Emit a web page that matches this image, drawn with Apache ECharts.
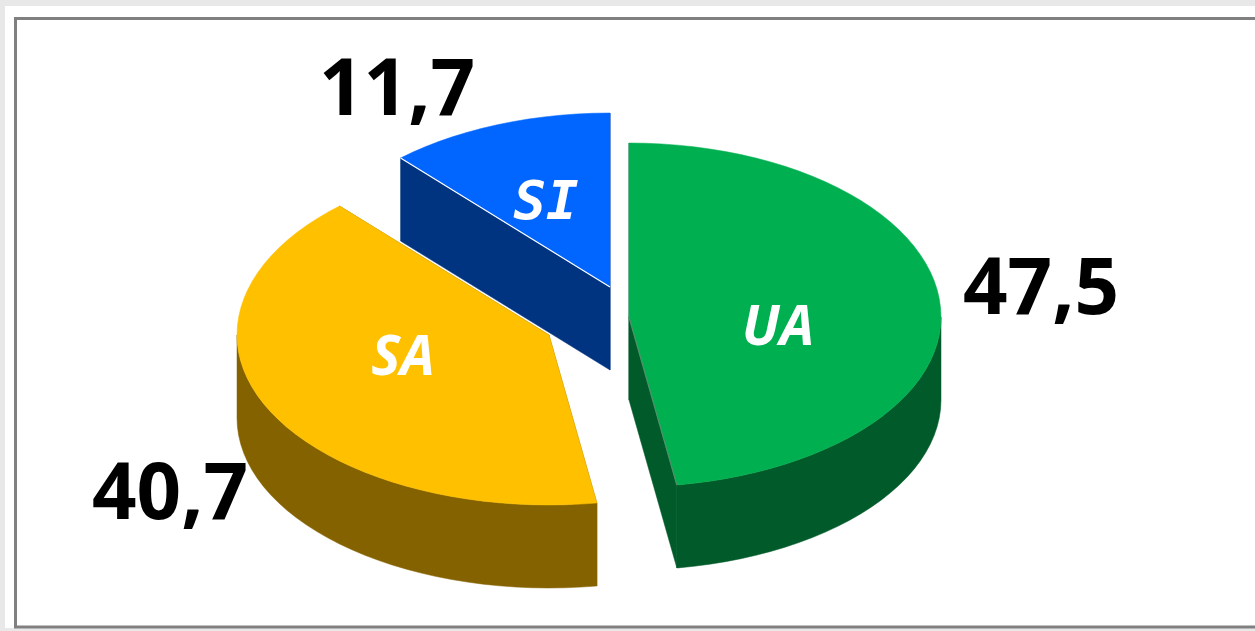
<!DOCTYPE html>
<html>

<head>
    <meta charset="utf-8">
    <title>UA SA SI</title>
    <style>
        html,
        body {
            margin: 0;
            padding: 0;
            background: #e8e8e8;
        }

        #chart {
            width: 1255px;
            height: 631px;
        }
    </style>
</head>

<body>
    <div id="chart"></div>
    <script src="https://cdn.jsdelivr.net/npm/echarts@6/dist/echarts.min.js"></script>
    <script>
        var categories = ['UA', 'SA', 'SI'];
        var values = [47.5, 40.7, 11.7];
        var valueLabels = ['47,5', '40,7', '11,7'];

        // look of the slices, same order as categories
        var topColors = ['#00b050', '#ffc000', '#0066ff'];
        var sideColors = ['#005a29', '#846200', '#003380'];
        var seamColors = ['#4f8f6a', null, '#ffffff'];
        var centers = [[629, 317], [549, 335], [610, 287]];
        var namePos = [[778, 329], [403, 359], [546, 205]];
        var nameFonts = [
            'italic bold 55px "Open Sans"',
            'italic bold 55px "Open Sans"',
            'italic bold 54px "DejaVu Sans Mono"'
        ];
        var valuePos = [[1041, 292], [170, 497], [397, 93]];

        var radiusX = 312;
        var radiusYBack = 174;
        var radiusYFront = 170;
        var depth = 83;
        var step = 3; // degrees per rim segment

        var total = values.reduce(function(a, b) {
            return a + b;
        }, 0);

        // slice start angles, clockwise from the top
        var startAngles = [];
        var sum = 0;
        for (var i = 0; i < values.length; i++) {
            startAngles.push(sum / total * 360);
            sum += values[i];
        }

        function rimPoint(c, deg, drop) {
            var r = deg * Math.PI / 180;
            var cos = Math.cos(r);
            var ry = cos > 0 ? radiusYBack : radiusYFront;
            return [c[0] + radiusX * Math.sin(r), c[1] - ry * cos + drop];
        }

        function rimPoints(c, from, to, drop) {
            var pts = [];
            for (var a = from; a < to; a += step) {
                pts.push(rimPoint(c, a, drop));
            }
            pts.push(rimPoint(c, to, drop));
            return pts;
        }

        function renderSlice(params, api) {
            var idx = api.value(0);
            var c = centers[idx];
            var a0 = startAngles[idx];
            var a1 = a0 + values[idx] / total * 360;

            function toPx(p) {
                return api.coord(p);
            }

            function poly(pts, color) {
                return {
                    type: 'polygon',
                    shape: { points: pts.map(toPx) },
                    style: { fill: color, stroke: color, lineWidth: 0.5 }
                };
            }

            function quad(deg) {
                var p = rimPoint(c, deg, 0);
                var q = rimPoint(c, deg, depth);
                return [c, p, q, [c[0], c[1] + depth]];
            }

            var children = [];
            // cut faces
            children.push(poly(quad(a0), sideColors[idx]));
            children.push(poly(quad(a1), sideColors[idx]));

            // outer wall, only the part turned to the viewer
            var w0 = Math.max(a0, 90);
            var w1 = Math.min(a1, 270);
            if (w1 > w0) {
                var lower = rimPoints(c, w0, w1, depth).reverse();
                children.push(poly(rimPoints(c, w0, w1, 0).concat(lower), sideColors[idx]));
            }

            // top face
            children.push(poly([c].concat(rimPoints(c, a0, a1, 0)), topColors[idx]));

            if (seamColors[idx]) {
                var seamAt = idx === 2 ? a0 : a1;
                var from = toPx(c);
                var to = toPx(rimPoint(c, seamAt, 0));
                children.push({
                    type: 'line',
                    shape: { x1: from[0], y1: from[1], x2: to[0], y2: to[1] },
                    style: { stroke: seamColors[idx], lineWidth: 1.2 }
                });
            }

            var np = toPx(namePos[idx]);
            children.push({
                type: 'text',
                z2: 10,
                style: {
                    text: categories[idx],
                    x: np[0],
                    y: np[1],
                    fill: '#ffffff',
                    font: nameFonts[idx],
                    align: 'center',
                    verticalAlign: 'middle'
                }
            });

            var vp = toPx(valuePos[idx]);
            children.push({
                type: 'text',
                z2: 10,
                style: {
                    text: valueLabels[idx],
                    x: vp[0],
                    y: vp[1],
                    fill: '#000000',
                    font: 'bold 78px "Open Sans"',
                    align: 'center',
                    verticalAlign: 'middle'
                }
            });

            return { type: 'group', children: children };
        }

        var myChart = echarts.init(document.getElementById('chart'));
        var option = {
            animation: false,
            backgroundColor: '#e8e8e8',
            tooltip: { show: false },
            graphic: [{
                type: 'rect',
                z: -10,
                shape: { x: 5, y: 6, width: 1260, height: 622 },
                style: { fill: '#ffffff' }
            }, {
                type: 'rect',
                z: -9,
                shape: { x: 15.5, y: 18.5, width: 1300, height: 608.5 },
                style: { fill: '#ffffff', stroke: '#808080', lineWidth: 3 }
            }],
            grid: { left: 0, right: 0, top: 0, bottom: 0 },
            xAxis: { type: 'value', min: 0, max: 1255, show: false },
            yAxis: { type: 'value', min: 0, max: 631, inverse: true, show: false },
            series: [{
                type: 'custom',
                coordinateSystem: 'cartesian2d',
                silent: true,
                clip: false,
                renderItem: renderSlice,
                encode: { x: 0, y: 0 },
                // back slice first so the nearer ones cover it
                data: [[2], [1], [0]]
            }]
        };
        myChart.setOption(option);
    </script>
</body>

</html>
